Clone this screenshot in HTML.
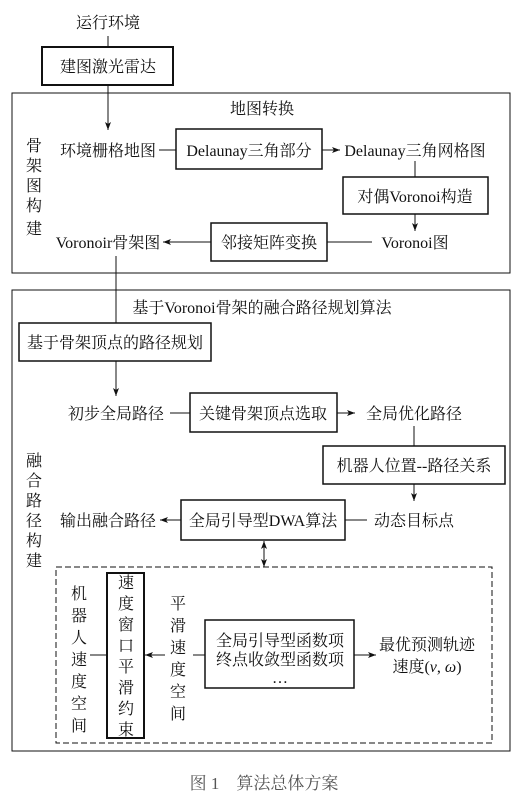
<!DOCTYPE html>
<html><head><meta charset="utf-8"><style>
html,body{margin:0;padding:0;background:#fff;}
svg text{font-family:"Liberation Serif","Noto Serif CJK SC","Noto Sans CJK SC",serif;font-size:16px;fill:#111;}
</style></head><body>
<svg width="530" height="798" viewBox="0 0 530 798" xmlns="http://www.w3.org/2000/svg">
<defs><marker id="a" markerWidth="8" markerHeight="6" refX="8" refY="3" orient="auto" markerUnits="userSpaceOnUse"><path d="M0,0 L8,3 L0,6 L2,3z" fill="#111"/></marker></defs>
<g stroke="#111" fill="none" stroke-width="1">
<line x1="108" y1="36" x2="108" y2="47"/>
<rect x="42" y="47" width="131" height="38" stroke-width="2"/>
<line x1="108" y1="85" x2="108" y2="130" marker-end="url(#a)"/>
<rect x="12" y="93" width="498" height="180"/>
<line x1="159" y1="150" x2="176" y2="150"/>
<rect x="176" y="129" width="146" height="40" stroke-width="1.5"/>
<line x1="322" y1="150" x2="340" y2="150" marker-end="url(#a)"/>
<line x1="415" y1="161" x2="415" y2="177"/>
<rect x="343" y="177" width="145" height="37" stroke-width="1.5"/>
<line x1="415" y1="214" x2="415" y2="231" marker-end="url(#a)"/>
<line x1="372" y1="242" x2="327" y2="242"/>
<rect x="211" y="223" width="116" height="38" stroke-width="1.5"/>
<line x1="211" y1="242" x2="163" y2="242" marker-end="url(#a)"/>
<line x1="116" y1="256" x2="116" y2="323"/>
<rect x="12" y="290" width="498" height="461"/>
<rect x="19" y="323" width="192" height="38" stroke-width="1.5"/>
<line x1="116" y1="361" x2="116" y2="396" marker-end="url(#a)"/>
<line x1="170" y1="413" x2="190" y2="413"/>
<rect x="190" y="393" width="147" height="39" stroke-width="1.5"/>
<line x1="337" y1="413" x2="355" y2="413" marker-end="url(#a)"/>
<line x1="414" y1="426" x2="414" y2="446"/>
<rect x="323" y="446" width="182" height="38" stroke-width="1.5"/>
<line x1="414" y1="484" x2="414" y2="501" marker-end="url(#a)"/>
<line x1="367" y1="520" x2="345" y2="520"/>
<rect x="181" y="500" width="164" height="40" stroke-width="1.5"/>
<line x1="181" y1="520" x2="160" y2="520" marker-end="url(#a)"/>
<line x1="264" y1="548" x2="264" y2="541" marker-end="url(#a)"/>
<line x1="264" y1="558" x2="264" y2="567" marker-end="url(#a)"/>
<line x1="264" y1="545" x2="264" y2="560"/>
<rect x="56" y="567" width="436" height="176" stroke-dasharray="6,3"/>
<line x1="90" y1="655" x2="107" y2="655"/>
<rect x="107" y="573" width="37" height="165" stroke-width="2"/>
<line x1="165" y1="655" x2="145" y2="655" marker-end="url(#a)"/>
<line x1="193" y1="655" x2="205" y2="655"/>
<rect x="205" y="620" width="149" height="68" stroke-width="1.5"/>
<line x1="354" y1="655" x2="376" y2="655" marker-end="url(#a)"/>
</g>
<g>
<text x="108" y="28" text-anchor="middle">运行环境</text>
<text x="108" y="72" text-anchor="middle">建图激光雷达</text>
<text x="262" y="114" text-anchor="middle">地图转换</text>
<text x="108" y="156" text-anchor="middle">环境栅格地图</text>
<text x="249" y="156" text-anchor="middle">Delaunay三角部分</text>
<text x="415" y="156" text-anchor="middle">Delaunay三角网格图</text>
<text x="415" y="202" text-anchor="middle">对偶Voronoi构造</text>
<text x="415" y="248" text-anchor="middle">Voronoi图</text>
<text x="269" y="248" text-anchor="middle">邻接矩阵变换</text>
<text x="108" y="248" text-anchor="middle">Voronoir骨架图</text>
<g text-anchor="middle"><text x="34" y="151">骨</text><text x="34" y="171">架</text><text x="34" y="191">图</text><text x="34" y="211">构</text><text x="34" y="234">建</text></g>
<text x="262" y="313" text-anchor="middle">基于Voronoi骨架的融合路径规划算法</text>
<text x="115" y="348" text-anchor="middle">基于骨架顶点的路径规划</text>
<text x="116" y="419" text-anchor="middle">初步全局路径</text>
<text x="263" y="419" text-anchor="middle">关键骨架顶点选取</text>
<text x="414" y="419" text-anchor="middle">全局优化路径</text>
<text x="414" y="471" text-anchor="middle">机器人位置--路径关系</text>
<text x="414" y="526" text-anchor="middle">动态目标点</text>
<text x="263" y="526" text-anchor="middle">全局引导型DWA算法</text>
<text x="108" y="526" text-anchor="middle">输出融合路径</text>
<g text-anchor="middle"><text x="34" y="466">融</text><text x="34" y="486">合</text><text x="34" y="506">路</text><text x="34" y="526">径</text><text x="34" y="546">构</text><text x="34" y="566">建</text></g>
<g text-anchor="middle"><text x="79" y="599">机</text><text x="79" y="621">器</text><text x="79" y="643">人</text><text x="79" y="665">速</text><text x="79" y="687">度</text><text x="79" y="709">空</text><text x="79" y="731">间</text></g>
<g text-anchor="middle"><text x="126" y="588">速</text><text x="126" y="609">度</text><text x="126" y="630">窗</text><text x="126" y="651">口</text><text x="126" y="672">平</text><text x="126" y="693">滑</text><text x="126" y="714">约</text><text x="126" y="735">束</text></g>
<g text-anchor="middle"><text x="178" y="609">平</text><text x="178" y="631">滑</text><text x="178" y="653">速</text><text x="178" y="675">度</text><text x="178" y="697">空</text><text x="178" y="719">间</text></g>
<text x="280" y="646" text-anchor="middle">全局引导型函数项</text>
<text x="280" y="665" text-anchor="middle">终点收敛型函数项</text>
<text x="280" y="683" text-anchor="middle">…</text>
<text x="427" y="650" text-anchor="middle">最优预测轨迹</text>
<text x="427" y="672" text-anchor="middle">速度(<tspan font-style="italic">v</tspan>, <tspan font-style="italic">ω</tspan>)</text>
<text x="264" y="789" text-anchor="middle" style="fill:#555;font-size:17px">图 1　算法总体方案</text>
</g>
</svg>
</body></html>
